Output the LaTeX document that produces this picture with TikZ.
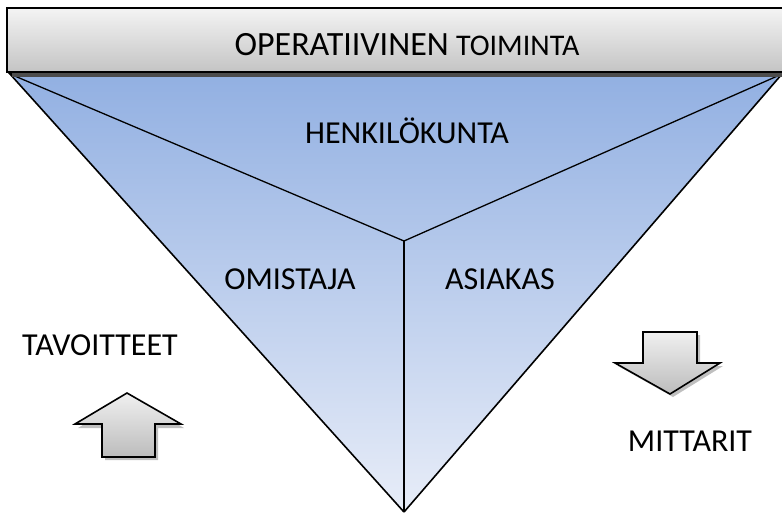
\documentclass[tikz,border=0pt]{standalone}
\usepackage{fontspec}
\setmainfont{Carlito}
\usetikzlibrary{shadows}
\definecolor{triTop}{RGB}{146,176,226}
\definecolor{triBot}{RGB}{232,237,248}
\definecolor{barTop}{RGB}{244,244,244}
\definecolor{barBot}{RGB}{196,196,196}
\definecolor{arrTop}{RGB}{240,240,240}
\definecolor{arrBot}{RGB}{188,188,188}
\tikzset{
  lbl/.style={font=\fontsize{32}{36}\selectfont, inner sep=0pt},
  edge/.style={draw=black, line width=1.6pt, line join=miter},
  arrowshape/.style={edge, top color=arrTop, bottom color=arrBot},
  shadowshape/.style={fill=black, opacity=0.25}
}
\begin{document}
\begin{tikzpicture}[x=1pt,y=-1pt]
\useasboundingbox (0,0) rectangle (782,515);

% the inverted triangle
\coordinate (tl) at (10,74);
\coordinate (tr) at (782,74);
\coordinate (ap) at (404,512);
\coordinate (mid) at (404,241);
\fill[black!45] (tl) ++(2,2) -- (ap) ++(2,0) -- cycle;
\path[top color=triTop, bottom color=triBot] (tl) -- (tr) -- (ap) -- cycle;
\draw[edge] (ap) -- (tl) -- (tr);
\draw[edge] (tr) -- (ap);
\draw[line width=1.3pt] (tl) -- (mid) -- (tr);
\draw[line width=1.3pt] (mid) -- (ap);

% top banner
\fill[black!70] (12,70) rectangle (782,77);
\path[edge, top color=barTop, bottom color=barBot] (7,8) rectangle (784,72);
\node[lbl] (oper) at (407,45) {{\fontsize{34}{38}\selectfont OPERATIIVINEN} {\fontsize{30}{34}\selectfont TOIMINTA}};

% section labels
\node[lbl] (henk) at (407,131) {HENKILÖKUNTA};
\node[lbl] (omis) at (290,279) {OMISTAJA};
\node[lbl] (asia) at (500,279) {ASIAKAS};
\node[lbl] (tavo) at (100,345) {TAVOITTEET};
\node[lbl] (mitt) at (690,441) {MITTARIT};

% up arrow
\fill[shadowshape] (105,460) -- (105,428) -- (78,428) -- (130,396) -- (184,428) -- (158,428) -- (158,460) -- cycle;
\path[arrowshape] (102,457) -- (102,424) -- (75,424) -- (127,393) -- (181,424) -- (155,424) -- (155,457) -- cycle;

% down arrow
\fill[shadowshape] (646,335) -- (700,335) -- (700,366) -- (723,366) -- (673,397) -- (618,366) -- (646,366) -- cycle;
\path[arrowshape] (643,332) -- (697,332) -- (697,363) -- (720,363) -- (670,394) -- (615,363) -- (643,363) -- cycle;
\end{tikzpicture}
\end{document}
